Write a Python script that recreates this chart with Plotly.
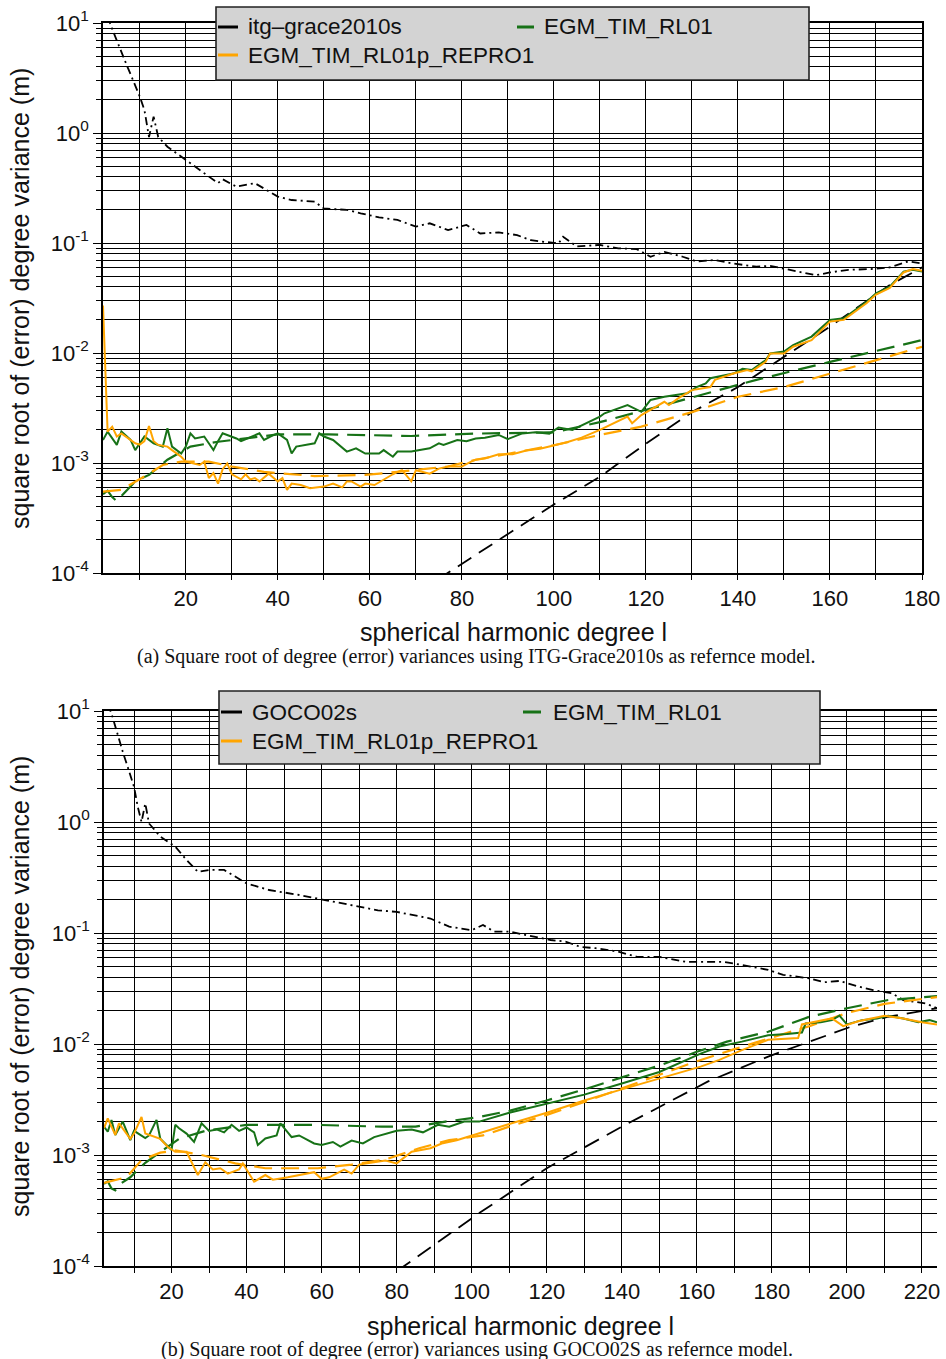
import plotly.graph_objects as go

W, H = 946, 1359

# ---------------- panel (a): reference ITG-Grace2010s ----------------
a_sig_deg = [3, 4, 7, 10, 11, 12, 13, 14, 16, 20, 23, 27, 28, 31, 35, 40, 43, 48, 50, 55, 58,
             62, 66, 70, 73, 77, 81, 84, 88, 92, 95, 101, 102, 105, 110, 114, 118, 121, 124,
             128, 131, 135, 139, 144, 147, 150, 153, 157, 160, 164, 169, 173, 177, 180]
a_sig_val = [11.5, 8.8, 4.3, 2.14, 1.62, 0.92, 1.41, 0.92, 0.75, 0.57, 0.46, 0.35, 0.38, 0.325,
             0.35, 0.264, 0.246, 0.238, 0.206, 0.20, 0.186, 0.171, 0.162, 0.141, 0.151, 0.131,
             0.146, 0.122, 0.125, 0.118, 0.106, 0.099, 0.114, 0.093, 0.096, 0.0895, 0.088,
             0.075, 0.083, 0.075, 0.068, 0.070, 0.065, 0.061, 0.062, 0.058, 0.055, 0.051,
             0.054, 0.057, 0.058, 0.060, 0.068, 0.065]

a_ref_err_deg = [70, 77, 90, 100, 110, 120, 130, 140, 149, 160, 173, 180]
a_ref_err_val = [6.5e-5, 1.0e-4, 2.26e-4, 4.2e-4, 7.5e-4, 1.5e-3, 2.9e-3, 4.9e-3, 8.6e-3,
                 1.74e-2, 4.15e-2, 6.0e-2]

a_tim_deg = [2, 3, 5, 6, 8, 9, 10, 11, 13, 15, 16, 17, 19, 20, 21, 22, 24, 26, 27, 28, 31, 32,
             36, 37, 39, 40, 42, 43, 44, 48, 49, 50, 52, 55, 57, 59, 62, 63, 65, 66, 69, 73,
             75, 76, 79, 81, 83, 85, 88, 90, 93, 96, 99, 101, 104, 107, 110, 111, 116, 119,
             121, 124, 129, 131, 133, 134, 139, 141, 143, 146, 147, 150, 152, 156, 160, 163,
             168, 170, 173, 176, 178, 180]
a_tim_val = [1.62e-3, 1.93e-3, 1.46e-3, 1.93e-3, 1.62e-3, 1.31e-3, 1.51e-3, 1.74e-3, 1.51e-3,
             1.41e-3, 2.07e-3, 1.41e-3, 1.22e-3, 1.41e-3, 1.86e-3, 1.67e-3, 1.74e-3, 1.31e-3,
             1.58e-3, 1.86e-3, 1.67e-3, 1.58e-3, 1.86e-3, 1.62e-3, 1.79e-3, 1.86e-3, 1.62e-3,
             1.22e-3, 1.41e-3, 1.51e-3, 1.86e-3, 1.74e-3, 1.62e-3, 1.27e-3, 1.36e-3, 1.22e-3,
             1.22e-3, 1.31e-3, 1.14e-3, 1.27e-3, 1.27e-3, 1.36e-3, 1.51e-3, 1.46e-3, 1.62e-3,
             1.58e-3, 1.67e-3, 1.70e-3, 1.80e-3, 1.65e-3, 1.85e-3, 1.90e-3, 1.85e-3, 2.10e-3,
             2.00e-3, 2.30e-3, 2.64e-3, 2.83e-3, 3.36e-3, 2.92e-3, 3.74e-3, 4.0e-3, 4.3e-3,
             4.9e-3, 5.3e-3, 5.9e-3, 6.5e-3, 7.2e-3, 7.0e-3, 8.6e-3, 9.9e-3, 1.03e-2, 1.18e-2,
             1.41e-2, 2.0e-2, 2.07e-2, 2.93e-2, 3.49e-2, 4.0e-2, 5.5e-2, 5.7e-2, 5.5e-2]

a_tim_err_deg = [2, 3, 4, 5, 6, 9, 12, 16, 21, 27, 40, 51, 69, 83, 100, 110, 124, 144, 160, 180]
a_tim_err_val = [5.2e-4, 5.6e-4, 4.9e-4, 4.5e-4, 5.0e-4, 6.8e-4, 7.8e-4, 1.07e-3, 1.41e-3,
                 1.56e-3, 1.82e-3, 1.82e-3, 1.76e-3, 1.85e-3, 1.9e-3, 2.35e-3, 3.37e-3,
                 5.7e-3, 8.3e-3, 1.31e-2]

a_rep_deg = [2, 3, 4, 5, 6, 9, 10, 11, 12, 13, 14, 16, 17, 19, 20, 22, 23, 24, 25, 26, 27, 28,
             29, 30, 32, 33, 34, 35, 36, 38, 40, 41, 42, 43, 45, 47, 49, 50, 52, 54, 55, 56,
             58, 59, 61, 63, 65, 66, 67, 69, 70, 73, 75, 77, 80, 82, 83, 85, 88, 91, 94, 97,
             100, 103, 106, 110, 116, 117, 119, 122, 124, 125, 127, 130, 134, 135, 139, 142,
             143, 146, 147, 150, 152, 156, 160, 163, 168, 170, 173, 176, 178, 180]
a_rep_val = [2.7e-2, 1.93e-3, 2.14e-3, 1.74e-3, 1.86e-3, 1.51e-3, 1.47e-3, 1.58e-3, 2.17e-3,
             1.58e-3, 1.46e-3, 1.41e-3, 1.31e-3, 1.14e-3, 1.03e-3, 9.9e-4, 9.6e-4, 1.03e-3,
             7.3e-4, 8.1e-4, 6.5e-4, 8.8e-4, 9.9e-4, 7.9e-4, 7.1e-4, 7.9e-4, 7.1e-4, 7.3e-4,
             6.8e-4, 8.0e-4, 6.8e-4, 7.3e-4, 5.7e-4, 6.5e-4, 6.3e-4, 5.9e-4, 6.0e-4, 6.1e-4,
             6.5e-4, 6.0e-4, 6.8e-4, 6.8e-4, 6.1e-4, 6.5e-4, 6.3e-4, 7.1e-4, 7.9e-4, 8.3e-4,
             8.6e-4, 6.8e-4, 8.6e-4, 8.0e-4, 8.9e-4, 9.3e-4, 9.3e-4, 1.03e-3, 1.07e-3, 1.10e-3,
             1.20e-3, 1.20e-3, 1.30e-3, 1.35e-3, 1.45e-3, 1.55e-3, 1.70e-3, 2.0e-3, 2.64e-3,
             2.3e-3, 2.73e-3, 3.25e-3, 3.6e-3, 3.36e-3, 3.87e-3, 4.6e-3, 4.9e-3, 5.7e-3,
             6.5e-3, 7.0e-3, 6.8e-3, 8.3e-3, 9.9e-3, 9.9e-3, 1.14e-2, 1.31e-2, 1.93e-2,
             2.0e-2, 2.85e-2, 3.4e-2, 3.9e-2, 5.4e-2, 5.8e-2, 5.6e-2]

a_rep_err_deg = [2, 6, 12, 15, 19, 25, 30, 37, 48, 59, 66, 77, 83, 100, 110, 119, 130, 140,
                 150, 160, 170, 180]
a_rep_err_val = [5.5e-4, 5.7e-4, 8.0e-4, 9.6e-4, 1.03e-3, 1.03e-3, 9.3e-4, 8.3e-4, 7.6e-4,
                 7.8e-4, 8.3e-4, 9.3e-4, 1.07e-3, 1.45e-3, 1.8e-3, 2.14e-3, 2.9e-3, 4.0e-3,
                 4.9e-3, 6.5e-3, 8.6e-3, 1.14e-2]

# ---------------- panel (b): reference GOCO02S ----------------
b_sig_deg = [3, 4, 7, 10, 11, 12, 13, 14, 17, 21, 24, 27, 30, 34, 40, 46, 54, 60, 67, 75, 80,
             89, 94, 100, 103, 106, 110, 116, 121, 125, 129, 133, 139, 144, 150, 157, 161, 167,
             172, 179, 183, 190, 194, 198, 203, 207, 212, 215, 221, 224]
b_sig_val = [11.5, 9.5, 4.3, 2.08, 1.37, 1.0, 1.47, 0.97, 0.74, 0.6, 0.455, 0.356, 0.37,
             0.37, 0.28, 0.244, 0.22, 0.2, 0.18, 0.16, 0.155, 0.135, 0.114, 0.106, 0.118,
             0.103, 0.103, 0.093, 0.0865, 0.0836, 0.075, 0.073, 0.068, 0.061, 0.061, 0.055,
             0.055, 0.055, 0.0515, 0.0465, 0.042, 0.039, 0.036, 0.037, 0.033, 0.0306,
             0.0286, 0.0249, 0.0232, 0.021]

b_ref_err_deg = [75, 82, 102, 120, 140, 163, 179, 189, 201, 211, 220, 224]
b_ref_err_val = [6.5e-5, 1.0e-4, 3.0e-4, 7.6e-4, 1.8e-3, 4.6e-3, 7.7e-3, 1.02e-2, 1.43e-2,
                 1.76e-2, 2.0e-2, 2.1e-2]

b_tim_deg = [2, 3, 4, 5, 7, 9, 10, 13, 14, 16, 17, 20, 21, 22, 24, 26, 28, 30, 32, 34, 36,
             38, 40, 42, 43, 45, 48, 49, 52, 54, 58, 60, 63, 65, 68, 71, 74, 76, 80, 84, 87,
             91, 94, 98, 102, 110, 120, 130, 140, 150, 161, 166, 172, 179, 184, 188, 189,
             193, 196, 198, 200, 204, 208, 211, 215, 219, 222, 224]
b_tim_val = [1.8e-3, 1.62e-3, 2.07e-3, 1.51e-3, 2.0e-3, 1.36e-3, 1.65e-3, 1.42e-3, 1.5e-3,
             2.07e-3, 1.4e-3, 1.11e-3, 1.87e-3, 1.74e-3, 1.56e-3, 1.31e-3, 1.93e-3, 1.65e-3,
             1.7e-3, 1.6e-3, 1.87e-3, 1.65e-3, 1.77e-3, 1.6e-3, 1.23e-3, 1.41e-3, 1.5e-3,
             1.93e-3, 1.45e-3, 1.5e-3, 1.27e-3, 1.23e-3, 1.31e-3, 1.19e-3, 1.35e-3, 1.27e-3,
             1.45e-3, 1.52e-3, 1.65e-3, 1.7e-3, 1.6e-3, 1.87e-3, 1.8e-3, 2.0e-3, 2.0e-3,
             2.4e-3, 2.9e-3, 3.5e-3, 4.4e-3, 5.6e-3, 8.2e-3, 9.5e-3, 1.05e-2, 1.2e-2, 1.23e-2,
             1.27e-2, 1.53e-2, 1.57e-2, 1.64e-2, 1.8e-2, 1.5e-2, 1.64e-2, 1.7e-2, 1.8e-2,
             1.7e-2, 1.57e-2, 1.64e-2, 1.57e-2]

b_tim_err_deg = [2, 3, 4, 5, 6, 9, 13, 19, 22, 29, 40, 58, 76, 85, 93, 102, 110, 120, 130,
                 140, 150, 160, 168, 179, 190, 200, 211, 224]
b_tim_err_val = [5.5e-4, 5.8e-4, 5.0e-4, 4.8e-4, 5.4e-4, 6.3e-4, 8.5e-4, 1.2e-3, 1.4e-3,
                 1.65e-3, 1.87e-3, 1.87e-3, 1.8e-3, 1.8e-3, 2.0e-3, 2.2e-3, 2.5e-3, 3.1e-3,
                 3.9e-3, 5.0e-3, 6.4e-3, 8.5e-3, 1.05e-2, 1.29e-2, 1.76e-2, 2.1e-2, 2.49e-2,
                 2.7e-2]

b_rep_deg = [2, 3, 5, 6, 9, 10, 12, 13, 17, 19, 21, 24, 27, 29, 31, 33, 35, 38, 39, 42, 45,
             47, 51, 54, 58, 60, 62, 66, 68, 70, 74, 77, 80, 84, 89, 92, 96, 100, 110, 120,
             130, 140, 150, 161, 166, 172, 179, 187, 188, 196, 199, 203, 210, 215, 220, 224]
b_rep_val = [1.75e-3, 2.14e-3, 1.52e-3, 1.93e-3, 1.4e-3, 1.56e-3, 2.2e-3, 1.56e-3, 1.4e-3,
             1.18e-3, 1.07e-3, 1.07e-3, 6.6e-4, 8.6e-4, 7.4e-4, 7.6e-4, 6.8e-4, 7.4e-4,
             8.4e-4, 5.75e-4, 6.6e-4, 6.0e-4, 6.3e-4, 6.6e-4, 7.0e-4, 6.1e-4, 6.3e-4, 7.4e-4,
             6.8e-4, 8.2e-4, 8.6e-4, 8.9e-4, 8.4e-4, 1.07e-3, 1.15e-3, 1.27e-3, 1.36e-3,
             1.5e-3, 1.9e-3, 2.4e-3, 3.1e-3, 3.9e-3, 4.9e-3, 6.25e-3, 7.2e-3, 8.8e-3,
             1.09e-2, 1.13e-2, 1.5e-2, 1.7e-2, 1.45e-2, 1.6e-2, 1.8e-2, 1.7e-2, 1.57e-2,
             1.5e-2]

b_rep_err_deg = [2, 8, 12, 17, 21, 28, 37, 45, 59, 68, 77, 86, 94, 103, 110, 120, 130, 140,
                 150, 160, 170, 180, 190, 200, 210, 224]
b_rep_err_val = [5.6e-4, 6.3e-4, 9.0e-4, 1.05e-3, 1.1e-3, 1.0e-3, 8.4e-4, 7.6e-4, 7.6e-4,
                 8.2e-4, 9.1e-4, 1.15e-3, 1.36e-3, 1.5e-3, 1.8e-3, 2.3e-3, 3.0e-3, 4.0e-3,
                 5.3e-3, 7.0e-3, 9.0e-3, 1.15e-2, 1.45e-2, 1.9e-2, 2.3e-2, 2.65e-2]

legend_a = ["itg\u2013grace2010s", "EGM_TIM_RL01", "EGM_TIM_RL01p_REPRO1"]
legend_b = ["GOCO02s", "EGM_TIM_RL01", "EGM_TIM_RL01p_REPRO1"]
caption_a = "(a) Square root of degree (error) variances using ITG-Grace2010s as refernce model."
caption_b = "(b) Square root of degree (error) variances using GOCO02S as refernce model."
x_title = "spherical harmonic degree l"
y_title = "square root of (error) degree variance (m)"

GREEN = "#177217"
ORANGE = "#ffa500"
BLACK = "#000000"
SANS = "Liberation Sans, Arial, sans-serif"
SERIF = "Liberation Serif, Times New Roman, serif"


def px(x):
    return x / W


def py(y):
    return 1 - y / H


fig = go.Figure()


def add_panel(xa, ya, series):
    for deg, val, color, width, dash in series:
        fig.add_trace(go.Scatter(x=deg, y=val, mode="lines", xaxis=xa, yaxis=ya,
                                 line=dict(color=color, width=width, dash=dash),
                                 showlegend=False, hoverinfo="skip"))


SIG_DASH = "8px,4px,2px,4px"
ERR_DASH = "18px,9px"
REF_DASH = "16px,9px"

add_panel("x", "y", [
    (a_sig_deg, a_sig_val, BLACK, 1.8, SIG_DASH),
    (a_ref_err_deg, a_ref_err_val, BLACK, 1.8, REF_DASH),
    (a_tim_err_deg, a_tim_err_val, GREEN, 2.2, ERR_DASH),
    (a_rep_err_deg, a_rep_err_val, ORANGE, 2.2, ERR_DASH),
    (a_tim_deg, a_tim_val, GREEN, 2.0, "solid"),
    (a_rep_deg, a_rep_val, ORANGE, 2.0, "solid"),
])
add_panel("x2", "y2", [
    (b_sig_deg, b_sig_val, BLACK, 1.8, SIG_DASH),
    (b_ref_err_deg, b_ref_err_val, BLACK, 1.8, REF_DASH),
    (b_tim_err_deg, b_tim_err_val, GREEN, 2.2, ERR_DASH),
    (b_rep_err_deg, b_rep_err_val, ORANGE, 2.2, ERR_DASH),
    (b_tim_deg, b_tim_val, GREEN, 2.0, "solid"),
    (b_rep_deg, b_rep_val, ORANGE, 2.0, "solid"),
])

decades = [1e-4, 1e-3, 1e-2, 1e-1, 1, 10]
decade_text = ["10<sup>-4</sup>", "10<sup>-3</sup>", "10<sup>-2</sup>", "10<sup>-1</sup>",
               "10<sup>0</sup>", "10<sup>1</sup>"]
minor_vals = [m * 10.0 ** e for e in range(-4, 1) for m in range(2, 10)]

tick_font = dict(family=SANS, size=22, color="#111")
GRID_W = 1.3


def yaxis_cfg(y0, y1, mirror):
    return dict(type="log", range=[-4, 1], domain=[py(y1), py(y0)],
                tickmode="array", tickvals=decades, ticktext=decade_text,
                ticks="outside", ticklen=8, tickwidth=1.3, tickcolor="black",
                showgrid=True, gridcolor="black", gridwidth=GRID_W,
                minor=dict(tickmode="array", tickvals=minor_vals, ticks="outside",
                           ticklen=5, tickwidth=1.3, tickcolor="black", showgrid=True,
                           gridcolor="black", gridwidth=GRID_W),
                showline=True, linecolor="black", linewidth=1.5, mirror=mirror,
                zeroline=False, tickfont=tick_font, automargin=False)


def xaxis_cfg(x0, x1, xmax, labels):
    return dict(range=[2, xmax], domain=[px(x0), px(x1)],
                tickmode="array", tickvals=labels, ticktext=[str(v) for v in labels],
                ticks="outside", ticklen=5, tickwidth=1.3, tickcolor="black",
                showgrid=True, gridcolor="black", gridwidth=GRID_W,
                minor=dict(dtick=10, tick0=0, ticks="outside", ticklen=5, tickwidth=1.3,
                           tickcolor="black", showgrid=True, gridcolor="black",
                           gridwidth=GRID_W),
                showline=True, linecolor="black", linewidth=1.5, mirror=True,
                zeroline=False, tickfont=tick_font, automargin=False)


fig.update_layout(
    width=W, height=H, template="none",
    margin=dict(l=0, r=0, t=0, b=0, pad=0),
    paper_bgcolor="white", plot_bgcolor="white",
    showlegend=False,
    xaxis=dict(xaxis_cfg(103, 922, 180, list(range(20, 181, 20))), anchor="y"),
    yaxis=dict(yaxis_cfg(23, 573, True), anchor="x"),
    xaxis2=dict(xaxis_cfg(104, 937, 224, list(range(20, 221, 20))), anchor="y2"),
    yaxis2=dict(yaxis_cfg(711, 1266, False), anchor="x2"),
)

shapes = []
annotations = []


def legend_box(x0, y0, x1, y1, rows, entries):
    shapes.append(dict(type="rect", xref="paper", yref="paper", x0=px(x0), x1=px(x1),
                       y0=py(y1), y1=py(y0), fillcolor="#d3d3d3",
                       line=dict(color="#222", width=1.6), layer="above"))
    for (sx0, sx1, tx, ry), (label, color) in zip(rows, entries):
        shapes.append(dict(type="line", xref="paper", yref="paper", x0=px(sx0), x1=px(sx1),
                           y0=py(ry), y1=py(ry), line=dict(color=color, width=3),
                           layer="above"))
        annotations.append(dict(text=label, xref="paper", yref="paper", x=px(tx), y=py(ry),
                                xanchor="left", yanchor="middle", showarrow=False,
                                font=dict(family=SANS, size=22.5, color="#111")))


legend_box(216, 7, 809, 80,
           [(218, 238, 246, 27), (517, 534, 542, 27), (218, 238, 246, 55)],
           [(legend_a[0], BLACK), (legend_a[1], GREEN), (legend_a[2], ORANGE)])
legend_box(219, 691, 820, 764,
           [(221, 242, 250, 712), (523, 541, 551, 712), (221, 242, 250, 741)],
           [(legend_b[0], BLACK), (legend_b[1], GREEN), (legend_b[2], ORANGE)])


def text(t, x, y, size, family, angle=0):
    annotations.append(dict(text=t, xref="paper", yref="paper", x=px(x), y=py(y),
                            xanchor="center", yanchor="middle", showarrow=False,
                            textangle=angle, font=dict(family=family, size=size,
                                                       color="#111")))


text(x_title, 513, 632, 25, SANS)
text(x_title, 520, 1326, 25, SANS)
text(y_title, 20, 299, 25, SANS, -90)
text(y_title, 20, 987, 25, SANS, -90)
text(caption_a, 476, 656, 20, SERIF)
text(caption_b, 477, 1349, 20, SERIF)

fig.update_layout(shapes=shapes, annotations=annotations)
fig.write_html("out.html")
